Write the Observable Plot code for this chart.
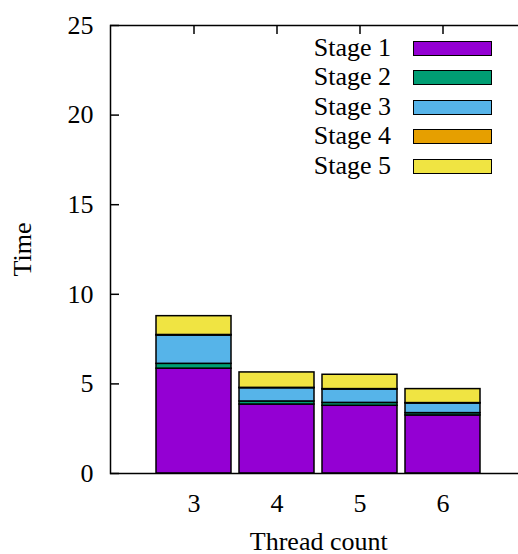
<!DOCTYPE html>
<html>
<head>
<meta charset="utf-8">
<script src="https://cdn.jsdelivr.net/npm/d3@7"></script>
<script src="https://cdn.jsdelivr.net/npm/@observablehq/plot@0.6"></script>
<style>
  body { margin: 0; background: #fff; }
  #wrap { position: relative; width: 518px; height: 554px; overflow: hidden; font-family: "Liberation Serif", serif; }
  #wrap svg { max-width: none !important; display: block; }
  #legend { position: absolute; left: 300px; top: 33px; width: 210px; height: 150px; }
  .row { position: absolute; left: 0; width: 210px; height: 30px; }
  .lab { position: absolute; left: 0; top: 0; width: 91px; text-align: right; font-size: 26px; line-height: 30px; white-space: nowrap; }
  .sw { position: absolute; left: 113px; top: 8px; width: 79px; height: 15px; box-sizing: border-box; border: 1.5px solid #000; }
</style>
</head>
<body>
<div id="wrap"><div id="legend"></div></div>
<script>
const threads = [3, 4, 5, 6];
const stages = ["Stage 1", "Stage 2", "Stage 3", "Stage 4", "Stage 5"];
const colors = ["#9400D3", "#009E73", "#56B4E9", "#E69F00", "#F0E442"];
const stage1 = [5.85, 3.85, 3.78, 3.24];
const stage2 = [0.27, 0.17, 0.16, 0.13];
const stage3 = [1.58, 0.74, 0.75, 0.54];
const stage4 = [0.03, 0.02, 0.02, 0.02];
const stage5 = [1.05, 0.86, 0.80, 0.78];
const yTicks = [0, 5, 10, 15, 20, 25];

const series = [stage1, stage2, stage3, stage4, stage5];
const rows = [];
threads.forEach((t, i) => {
  series.forEach((s, j) => rows.push({thread: t, stage: stages[j], value: s[i]}));
});

const font = "Liberation Serif";
const chart = Plot.plot({
  width: 560,
  height: 554,
  marginLeft: 110,
  marginRight: 33.5,
  marginTop: 25,
  marginBottom: 81,
  style: {fontFamily: font, fontSize: "26px", color: "#000", background: "#fff"},
  x: {type: "band", domain: threads, paddingInner: 0.1, paddingOuter: 0.55},
  y: {domain: [0, 25]},
  color: {domain: stages, range: colors},
  marks: [
    Plot.barY(rows, {x: "thread", y: "value", fill: "stage", stroke: "#000", strokeWidth: 1.5}),
    Plot.axisY(yTicks, {anchor: "left", tickSize: 0, tickPadding: 17, fontSize: 26, label: "Time", labelAnchor: "center", labelOffset: 98, labelArrow: "none"}),
    Plot.axisY(yTicks, {anchor: "left", tickSize: -9, tickFormat: () => "", label: null, strokeWidth: 1.5}),
    Plot.axisY(yTicks, {anchor: "right", tickSize: -9, tickFormat: () => "", label: null, strokeWidth: 1.5}),
    Plot.axisX(threads, {anchor: "bottom", tickSize: 0, tickPadding: 20, fontSize: 26, label: "Thread count", labelAnchor: "center", labelOffset: 76, labelArrow: "none"}),
    Plot.axisX(threads, {anchor: "top", tickSize: -8, tickFormat: () => "", label: null, strokeWidth: 1.5}),
    Plot.frame({stroke: "#000", strokeWidth: 1.5})
  ]
});
chart.style.maxWidth = "none";
const wrap = document.getElementById("wrap");
wrap.insertBefore(chart, wrap.firstChild);

const legend = document.getElementById("legend");
stages.forEach((s, i) => {
  const row = document.createElement("div");
  row.className = "row";
  row.style.top = (i * 29.4) + "px";
  const lab = document.createElement("div");
  lab.className = "lab";
  lab.textContent = s;
  const sw = document.createElement("div");
  sw.className = "sw";
  sw.style.background = colors[i];
  row.appendChild(lab);
  row.appendChild(sw);
  legend.appendChild(row);
});
</script>
</body>
</html>
